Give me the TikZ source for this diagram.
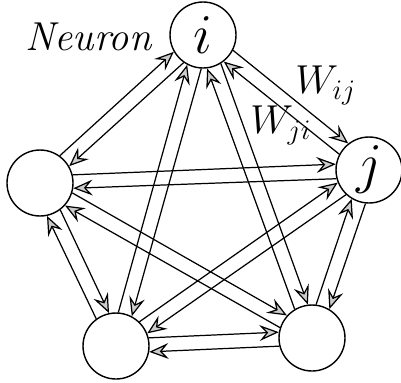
\RequirePackage{fix-cm}
\documentclass[tikz,border=0pt]{standalone}
\usetikzlibrary{arrows.meta,calc}
\begin{document}
\begin{tikzpicture}[x=0.02cm, y=-0.02cm,
		neuron/.style={circle, draw, line width=0.8pt, minimum size=1.32cm, inner sep=0pt, font=\fontsize{32}{32}\selectfont},
		syn/.style={line width=0.7pt, -{Stealth[length=11pt, width=9pt, inset=4pt, fill=gray!40]}},
		lbl/.style={inner sep=0pt, font=\fontsize{23}{23}\selectfont}]
	\useasboundingbox (0,0) rectangle (401,382);
	\node[neuron] (ni) at (203,35) {$i$};
	\node[neuron] (nj) at (369,170) {$j$};
	\node[neuron] (nl) at (40,183) {};
	\node[neuron] (nbl) at (116,346) {};
	\node[neuron] (nbr) at (312,338) {};
	\node[lbl, anchor=base west] (tneuron) at (25,50) {\itshape Neuron};
	\node[lbl, anchor=base west] (twij) at (295,93) {$W_{ij}$};
	\node[lbl, anchor=base west] (twji) at (250,133) {$W_{ji}$};
	\foreach \a/\b in {ni/nj, ni/nl, ni/nbl, ni/nbr, nj/nl, nj/nbl, nj/nbr, nl/nbl, nl/nbr, nbl/nbr}
	{
		\draw[syn] let \p1=(\a), \p2=(\b), \n1={atan2(\y2-\y1,\x2-\x1)}, \n2={\n1+12}, \n3={\n1+168} in (\a.\n2) -- (\b.\n3);
		\draw[syn] let \p1=(\a), \p2=(\b), \n1={atan2(\y2-\y1,\x2-\x1)}, \n2={\n1+192}, \n3={\n1+348} in (\b.\n2) -- (\a.\n3);
	}
\end{tikzpicture}
\end{document}
